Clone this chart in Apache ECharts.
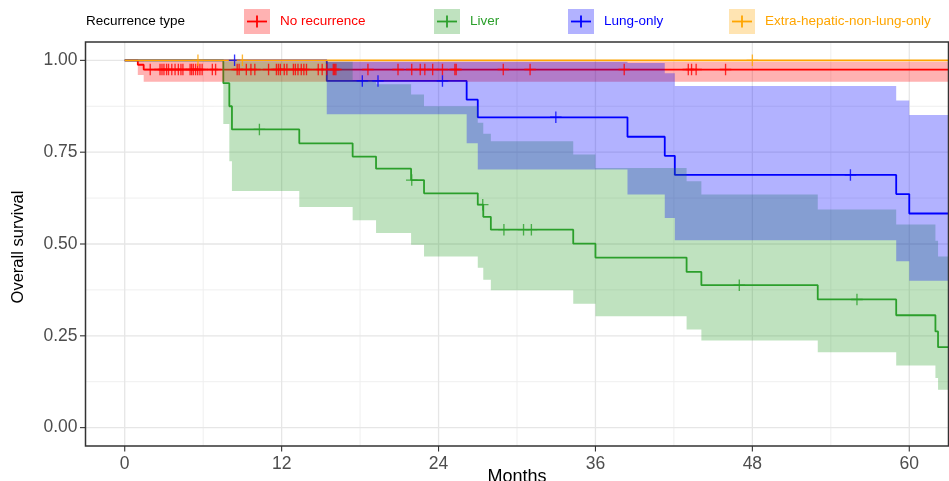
<!DOCTYPE html>
<html>
<head>
<meta charset="utf-8">
<script src="https://cdn.jsdelivr.net/npm/echarts@6/dist/echarts.min.js"></script>
<style>
  html, body { margin: 0; padding: 0; background: #fff; }
  #chart { width: 949px; height: 481px; }
</style>
</head>
<body>
<div id="chart"></div>
<script>
// Kaplan-Meier overall survival by recurrence type (months), with 95% confidence bands

const groupNames = ['No recurrence', 'Liver', 'Lung-only', 'Extra-hepatic-non-lung-only'];

// No recurrence
const noRecTime  = [0, 1.0, 1.45, 66];
const noRecSurv  = [1, 0.988, 0.975, 0.975];
const noRecLower = [1, 0.96, 0.942, 0.942];
const noRecUpper = [1, 0.997, 0.996, 0.996];
const noRecCensor = [1.95, 2.7, 2.85, 3.0, 3.2, 3.35, 3.6, 3.85, 4.1, 4.3, 4.45, 5.0, 5.12, 5.25,
  5.42, 5.58, 5.75, 5.92, 6.7, 6.95, 8.6, 8.75, 9.3, 9.65, 9.95, 11.0, 11.6, 11.75, 11.9, 12.2,
  12.4, 12.9, 13.05, 13.25, 13.5, 13.7, 13.9, 14.8, 15.1, 15.45, 15.95, 16.05, 16.15, 18.6, 20.9,
  21.95, 22.6, 22.95, 23.55, 24.3, 25.25, 25.35, 28.95, 31.0, 38.2, 43.1, 43.35, 43.7, 45.95];

// Liver
const liverTime  = [0, 7.54, 8.0, 8.2, 13.35, 17.43, 19.22, 21.9, 22.89, 27.0, 27.42, 28.0, 34.3,
  36.0, 42.97, 44.1, 53.0, 59.0, 62.0, 62.2, 66];
const liverSurv  = [1, 0.938, 0.875, 0.812, 0.774, 0.738, 0.705, 0.674, 0.638, 0.607, 0.574, 0.539,
  0.501, 0.463, 0.424, 0.388, 0.349, 0.306, 0.262, 0.219, 0.219];
const liverLower = [1, 0.827, 0.725, 0.644, 0.601, 0.565, 0.530, 0.498, 0.466, 0.435, 0.403, 0.374,
  0.337, 0.303, 0.267, 0.237, 0.205, 0.169, 0.135, 0.103, 0.103];
const liverUpper = [1, 0.996, 0.996, 0.996, 0.996, 0.945, 0.935, 0.907, 0.875, 0.83, 0.80, 0.78,
  0.744, 0.707, 0.671, 0.635, 0.594, 0.553, 0.509, 0.466, 0.466];
const liverCensor = [10.3, 21.95, 27.38, 29.0, 30.5, 31.1, 47.0, 56.0];

// Lung-only
const lungTime  = [0, 15.45, 26.15, 27.0, 38.45, 41.3, 42.07, 59.0, 60.0, 66];
const lungSurv  = [1, 0.944, 0.893, 0.845, 0.792, 0.740, 0.688, 0.636, 0.583, 0.583];
const lungLower = [1, 0.853, 0.774, 0.703, 0.635, 0.571, 0.510, 0.453, 0.400, 0.400];
const lungUpper = [1, 0.996, 0.996, 0.996, 0.993, 0.965, 0.930, 0.891, 0.851, 0.851];
const lungCensor = [8.4, 18.17, 19.37, 24.3, 32.97, 55.5];

// Extra-hepatic-non-lung-only (no events)
const extraTime = [0, 66];
const extraSurv = [1, 1];
const extraCensor = [5.6, 9.0, 48.0];

// Axis ticks and grid positions
const xTickLabels = [0, 12, 24, 36, 48, 60];
const xMinorGrid  = [6, 18, 30, 42, 54];
const yTickLabels = [0, 0.25, 0.5, 0.75, 1];
const yMinorGrid  = [0.125, 0.375, 0.625, 0.875];

const lineColors = ['#FF0000', '#2CA02C', '#0000FF', '#FFA500'];
const bandColors = ['rgba(255,0,0,0.3)', 'rgba(44,160,44,0.3)', 'rgba(0,0,255,0.3)', 'rgba(255,165,0,0.3)'];

const FONT = '"Liberation Sans", Arial, Helvetica, sans-serif';
const PANEL = { left: 85.5, top: 42, width: 863, height: 404 };

function pairs(t, v) { return t.map((x, i) => [x, v[i]]); }

function survAt(t, times, surv) {
  let s = surv[0];
  for (let i = 0; i < times.length; i++) { if (times[i] <= t) s = surv[i]; }
  return s;
}

function curve(name, times, surv, color) {
  return {
    type: 'line', name: name, step: 'end', data: pairs(times, surv),
    symbol: 'none', showSymbol: false, silent: true, animation: false, z: 2,
    lineStyle: { color: color, width: 1.8 }, itemStyle: { color: color }
  };
}

// stepped confidence band: one polygon per group, upper edge forward then lower edge back
function band(times, lower, upper, fill) {
  return {
    type: 'custom', silent: true, animation: false, z: 3, clip: true,
    data: pairs(times, lower).map((p, i) => [p[0], p[1], upper[i]]),
    encode: { x: 0, y: [1, 2] },
    renderItem: function (params, api) {
      if (params.dataIndex !== 0) return null;
      const n = times.length;
      const pts = [];
      for (let i = 0; i < n - 1; i++) {
        pts.push(api.coord([times[i], upper[i]]));
        pts.push(api.coord([times[i + 1], upper[i]]));
      }
      for (let i = n - 2; i >= 0; i--) {
        pts.push(api.coord([times[i + 1], lower[i]]));
        pts.push(api.coord([times[i], lower[i]]));
      }
      const cs = params.coordSys;
      return {
        type: 'polygon', shape: { points: pts },
        style: { fill: fill, stroke: null },
        clipPath: { type: 'rect', shape: { x: cs.x, y: cs.y, width: cs.width, height: cs.height } }
      };
    }
  };
}

const PLUS = 'path://M5.3,0h1.4v5.3h5.3v1.4h-5.3v5.3h-1.4v-5.3h-5.3v-1.4h5.3z';
function censor(times, ctimes, surv, color) {
  return {
    type: 'scatter', data: ctimes.map(t => [t, survAt(t, times, surv)]),
    symbol: PLUS, symbolSize: 11.5, silent: true, animation: false, z: 4,
    itemStyle: { color: color }
  };
}

// grid lines drawn through the axis scales
function gridLines(values, dir, color, width) {
  return {
    type: 'custom', silent: true, animation: false, z: 1, clip: false,
    data: values.map(v => dir === 'x' ? [v, 0.5] : [30, v]),
    encode: { x: 0, y: 1 },
    renderItem: function (params, api) {
      const cs = params.coordSys;
      if (dir === 'x') {
        const x = api.coord([api.value(0), 0.5])[0];
        return { type: 'line', shape: { x1: x, y1: cs.y, x2: x, y2: cs.y + cs.height },
          style: { stroke: color, lineWidth: width } };
      }
      const y = api.coord([30, api.value(1)])[1];
      return { type: 'line', shape: { x1: cs.x, y1: y, x2: cs.x + cs.width, y2: y },
        style: { stroke: color, lineWidth: width } };
    }
  };
}

// axis ticks and tick labels placed with the axis scales
function axisMarks(values, dir) {
  return {
    type: 'custom', silent: true, animation: false, z: 6, clip: false,
    data: values.map(v => dir === 'x' ? [v, 0.5] : [30, v]),
    encode: { x: 0, y: 1 },
    renderItem: function (params, api) {
      const cs = params.coordSys;
      const tickStyle = { stroke: '#333333', lineWidth: 1.1 };
      const textFont = '17.5px ' + FONT;
      if (dir === 'x') {
        const v = api.value(0);
        const x = api.coord([v, 0.5])[0];
        const yb = cs.y + cs.height;
        return { type: 'group', children: [
          { type: 'line', shape: { x1: x, y1: yb, x2: x, y2: yb + 5.5 }, style: tickStyle },
          { type: 'text', x: x, y: yb + 18, style: { text: String(v), font: textFont,
            fill: '#4D4D4D', align: 'center', verticalAlign: 'middle' } }
        ] };
      }
      const v = api.value(1);
      const y = api.coord([30, v])[1];
      return { type: 'group', children: [
        { type: 'line', shape: { x1: cs.x - 5.5, y1: y, x2: cs.x, y2: y }, style: tickStyle },
        { type: 'text', x: cs.x - 8, y: y, style: { text: v.toFixed(2), font: textFont,
          fill: '#4D4D4D', align: 'right', verticalAlign: 'middle' } }
      ] };
    }
  };
}

const series = [
  gridLines(xMinorGrid, 'x', '#EFEFEF', 1),
  gridLines(yMinorGrid, 'y', '#EFEFEF', 1),
  gridLines(xTickLabels, 'x', '#E6E6E6', 1.3),
  gridLines(yTickLabels, 'y', '#E6E6E6', 1.3),
  curve(groupNames[0], noRecTime, noRecSurv, lineColors[0]),
  curve(groupNames[1], liverTime, liverSurv, lineColors[1]),
  curve(groupNames[2], lungTime, lungSurv, lineColors[2]),
  curve(groupNames[3], extraTime, extraSurv, lineColors[3]),
  band(noRecTime, noRecLower, noRecUpper, bandColors[0]),
  band(liverTime, liverLower, liverUpper, bandColors[1]),
  band(lungTime, lungLower, lungUpper, bandColors[2]),
  censor(noRecTime, noRecCensor, noRecSurv, lineColors[0]),
  censor(liverTime, liverCensor, liverSurv, lineColors[1]),
  censor(lungTime, lungCensor, lungSurv, lineColors[2]),
  censor(extraTime, extraCensor, extraSurv, lineColors[3]),
  axisMarks(xTickLabels, 'x'),
  axisMarks(yTickLabels, 'y')
];

// legend drawn as keys: shaded square with a cross, then the label
const legendKeyX = [244, 434, 568, 729];
const graphics = [{
  type: 'text', left: 86, top: 14,
  style: { text: 'Recurrence type', fill: '#000', font: '13.5px ' + FONT }
}];
groupNames.forEach((name, i) => {
  const x = legendKeyX[i];
  graphics.push(
    { type: 'rect', shape: { x: x, y: 9, width: 26, height: 25 }, style: { fill: bandColors[i] } },
    { type: 'line', shape: { x1: x + 3, y1: 21.5, x2: x + 23, y2: 21.5 }, style: { stroke: lineColors[i], lineWidth: 1.8 } },
    { type: 'line', shape: { x1: x + 13, y1: 15.5, x2: x + 13, y2: 27.5 }, style: { stroke: lineColors[i], lineWidth: 1.8 } },
    { type: 'text', x: x + 36, y: 21.5,
      style: { text: name, fill: lineColors[i], font: '13.5px ' + FONT, verticalAlign: 'middle' } }
  );
});
// panel border and axis titles
graphics.push(
  { type: 'rect', z: 100, silent: true,
    shape: { x: PANEL.left, y: PANEL.top, width: PANEL.width, height: PANEL.height },
    style: { fill: 'none', stroke: '#333333', lineWidth: 1.5 } },
  { type: 'text', x: PANEL.left + PANEL.width / 2, y: 477,
    style: { text: 'Months', font: '18px ' + FONT, fill: '#000', align: 'center', verticalAlign: 'middle' } },
  { type: 'text', x: 18, y: PANEL.top + PANEL.height / 2 + 3, rotation: Math.PI / 2,
    style: { text: 'Overall survival', font: '16.5px ' + FONT, fill: '#000', align: 'center', verticalAlign: 'middle' } }
);

const option = {
  backgroundColor: '#ffffff',
  animation: false,
  grid: { left: PANEL.left, top: PANEL.top, width: PANEL.width, height: PANEL.height,
    containLabel: false, outerBoundsMode: 'none' },
  xAxis: {
    type: 'value', min: -3, max: 63,
    axisLine: { show: false }, axisTick: { show: false }, splitLine: { show: false },
    axisLabel: { show: false }
  },
  yAxis: {
    type: 'value', min: -0.05, max: 1.05,
    axisLine: { show: false }, axisTick: { show: false }, splitLine: { show: false },
    axisLabel: { show: false }
  },
  graphic: graphics,
  series: series
};

const chart = echarts.init(document.getElementById('chart'));
chart.setOption(option);
</script>
</body>
</html>
